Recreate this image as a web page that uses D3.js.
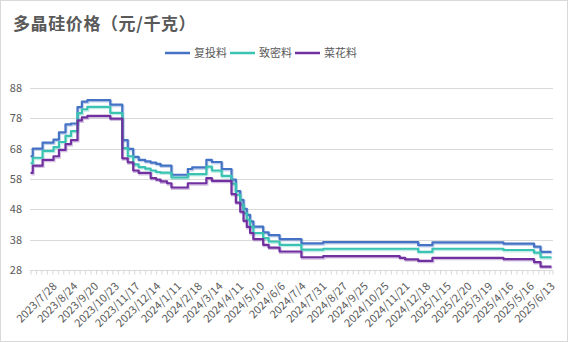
<!DOCTYPE html>
<html><head><meta charset="utf-8">
<script src="https://cdn.jsdelivr.net/npm/d3@7"></script>
<style>body{margin:0;background:#fff}svg{display:block}text{font-family:"Noto Sans CJK SC","Noto Sans",sans-serif}</style>
</head><body><svg id="c" width="568" height="342"></svg>
<script>
// ---- data ----
const seriesNames = ["复投料", "致密料", "菜花料"];
const dayCount = 478; // trading days on the category axis
// trading-day index where a new price level takes effect
const stepDays = [0,2,11,21,26,32,37,43,47,52,73,84,89,94,99,105,110,115,119,125,129,144,148,161,166,175,184,188,192,195,198,201,204,213,218,228,248,268,338,343,355,368,433,461,467];
const fuTou = [65.5,68.0,70.0,71.0,73.4,76.0,76.3,81.7,83.5,84.0,82.5,70.8,67.9,65.3,64.3,63.8,63.4,63.0,62.4,62.4,59.4,61.3,61.8,64.3,63.6,61.3,57.8,54.0,51.1,48.2,46.2,44.0,42.3,40.4,39.5,38.2,36.8,37.2,37.2,37.2,36.2,37.1,36.7,35.7,34.0];
const zhiMi = [63.2,65.0,67.3,68.5,70.2,72.2,73.8,79.7,81.0,81.8,79.8,68.2,65.5,62.8,61.9,61.4,60.8,60.3,60.1,60.1,58.5,59.6,59.6,62.1,60.8,59.0,56.5,52.8,49.6,46.8,44.6,42.3,40.2,38.5,37.4,36.3,34.7,35.0,35.0,35.0,34.0,35.0,34.6,33.7,32.2];
const caiHua = [60.0,62.4,64.3,65.5,67.6,69.5,70.8,77.3,78.3,78.8,77.9,64.8,63.5,60.8,60.0,60.0,58.3,57.8,57.2,56.6,55.2,56.6,56.6,58.3,57.4,57.4,53.0,50.2,47.2,44.2,42.2,40.2,38.2,36.3,35.4,34.1,32.2,32.6,32.0,31.5,31.0,32.0,31.6,30.6,29.1];
const xLabels = ["2023/7/28","2023/8/24","2023/9/20","2023/10/23","2023/11/17","2023/12/14","2024/1/11","2024/2/18","2024/3/14","2024/4/11","2024/5/10","2024/6/6","2024/7/4","2024/7/31","2024/8/27","2024/9/25","2024/10/25","2024/11/21","2024/12/18","2025/1/15","2025/2/20","2025/3/19","2025/4/16","2025/5/16","2025/6/13"];
const labelFirstDay = 21, labelEvery = 19, tickEvery = 5;
const yTicks = [28,38,48,58,68,78,88];
const colors = ["#4472C4", "#3AC3B2", "#7030A0"];

// ---- chart ----
const svg = d3.select("#c");
const W = 568, H = 342;
const L = 30, R = 552, T = 88, B = 270;
svg.append("rect").attr("x",0.5).attr("y",0.5).attr("width",W-1).attr("height",H-1)
  .attr("fill","#fff").attr("stroke","#d9d9d9");

const x = d3.scaleLinear().domain([-0.5, dayCount-0.5]).range([L, R]);
const y = d3.scaleLinear().domain([28, 88]).range([B, T]);

// grid
svg.append("g").selectAll("line").data(yTicks.slice(1)).join("line")
  .attr("x1",L).attr("x2",R+1).attr("y1",d=>Math.round(y(d))+0.5).attr("y2",d=>Math.round(y(d))+0.5)
  .attr("stroke","#d9d9d9").attr("stroke-width",1);

// y labels
svg.append("g").selectAll("text").data(yTicks).join("text")
  .attr("x",22).attr("y",d=>y(d)+4).attr("text-anchor","end")
  .attr("font-size",11).attr("fill","#595959").text(d=>d);

// x axis
const tickVals = d3.range(-0.5, dayCount, tickEvery).concat([dayCount-0.5]);
const xAxis = d3.axisBottom(x).tickValues(tickVals).tickSize(4).tickFormat("");
const gx = svg.append("g").attr("transform",`translate(0,${Math.round(y(28))+0.5})`).call(xAxis);
gx.selectAll("path,line").attr("stroke","#d9d9d9");
gx.select(".domain").attr("d",`M${L},0H${R+1}`);
gx.selectAll(".tick line").attr("transform","translate(0.5,0)");

const labelData = xLabels.map((t,i)=>({t, d: labelFirstDay + i*labelEvery}));
svg.append("g").selectAll("text").data(labelData).join("text")
  .attr("transform",d=>`translate(${x(d.d)+4},287) rotate(-45)`)
  .attr("text-anchor","end").attr("font-size",11).attr("fill","#595959").text(d=>d.t);

// lines
const allSeries = [fuTou, zhiMi, caiHua];
const line = d3.line().x(p=>x(p[0])).y(p=>y(p[1])).curve(d3.curveStepAfter);
allSeries.forEach((vals,i)=>{
  const pts = stepDays.map((d,j)=>[d, vals[j]]);
  pts.push([dayCount-1, vals[vals.length-1]]);
  svg.append("path").attr("d",line(pts)).attr("fill","none")
    .attr("stroke",colors[i]).attr("stroke-opacity",0.3).attr("stroke-width",2.5)
    .attr("transform","translate(0.8,1.2)");
  svg.append("path").attr("d",line(pts)).attr("fill","none")
    .attr("stroke",colors[i]).attr("stroke-width",2.2).attr("stroke-linejoin","round");
});

// title
svg.append("text").attr("x",13).attr("y",30).attr("font-size",17).attr("font-weight",700)
  .attr("letter-spacing",0.6).attr("fill","#595959").text("多晶硅价格（元/千克）");

// legend
const lg = svg.append("g").selectAll("g").data(seriesNames).join("g")
  .attr("transform",(d,i)=>`translate(${165+i*65},53)`);
lg.append("line").attr("x1",0).attr("x2",25).attr("y1",0).attr("y2",0)
  .attr("stroke",(d,i)=>colors[i]).attr("stroke-width",2.5);
lg.append("text").attr("x",29).attr("y",4).attr("font-size",11).attr("fill","#595959").text(d=>d);
</script></body></html>
